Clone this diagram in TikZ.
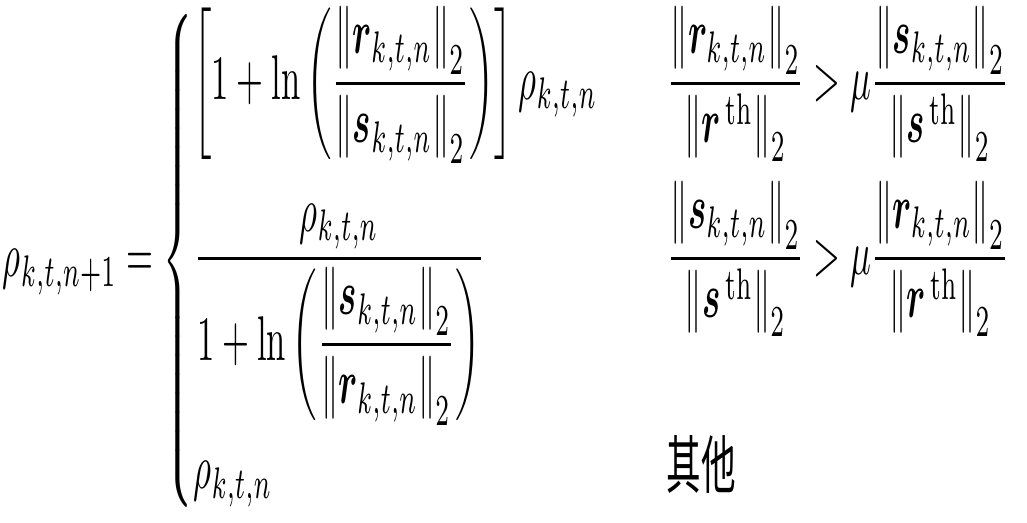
\documentclass[tikz,border=0pt]{standalone}
\usepackage{amsmath,bm}
\usepackage{fontspec}
\newfontfamily\cjks{Noto Sans CJK SC}
\newcommand{\nrm}[1]{\left\|#1\right\|_2}
\begin{document}
\begin{tikzpicture}
\useasboundingbox (0,0) rectangle (10.27,5.22);
\node[inner sep=0pt] (f) at (5.08,2.61) {\resizebox*{10.1cm}{5.1cm}{$\displaystyle
\rho_{k,t,n+1}=\begin{cases}
\left[1+\ln\left(\dfrac{\nrm{\bm r_{k,t,n}}}{\nrm{\bm s_{k,t,n}}}\right)\right]\rho_{k,t,n} & \quad\dfrac{\nrm{\bm r_{k,t,n}}}{\nrm{\bm r^{\,\mathrm{th}}}}>\mu\dfrac{\nrm{\bm s_{k,t,n}}}{\nrm{\bm s^{\,\mathrm{th}}}}\\[2ex]
\dfrac{\rho_{k,t,n}}{1+\ln\left(\dfrac{\nrm{\bm s_{k,t,n}}}{\nrm{\bm r_{k,t,n}}}\right)} & \quad\dfrac{\nrm{\bm s_{k,t,n}}}{\nrm{\bm s^{\,\mathrm{th}}}}>\mu\dfrac{\nrm{\bm r_{k,t,n}}}{\nrm{\bm r^{\,\mathrm{th}}}}\\[1ex]
\rho_{k,t,n} & \quad\text{\cjks 其他}
\end{cases}$}};
\end{tikzpicture}
\end{document}
